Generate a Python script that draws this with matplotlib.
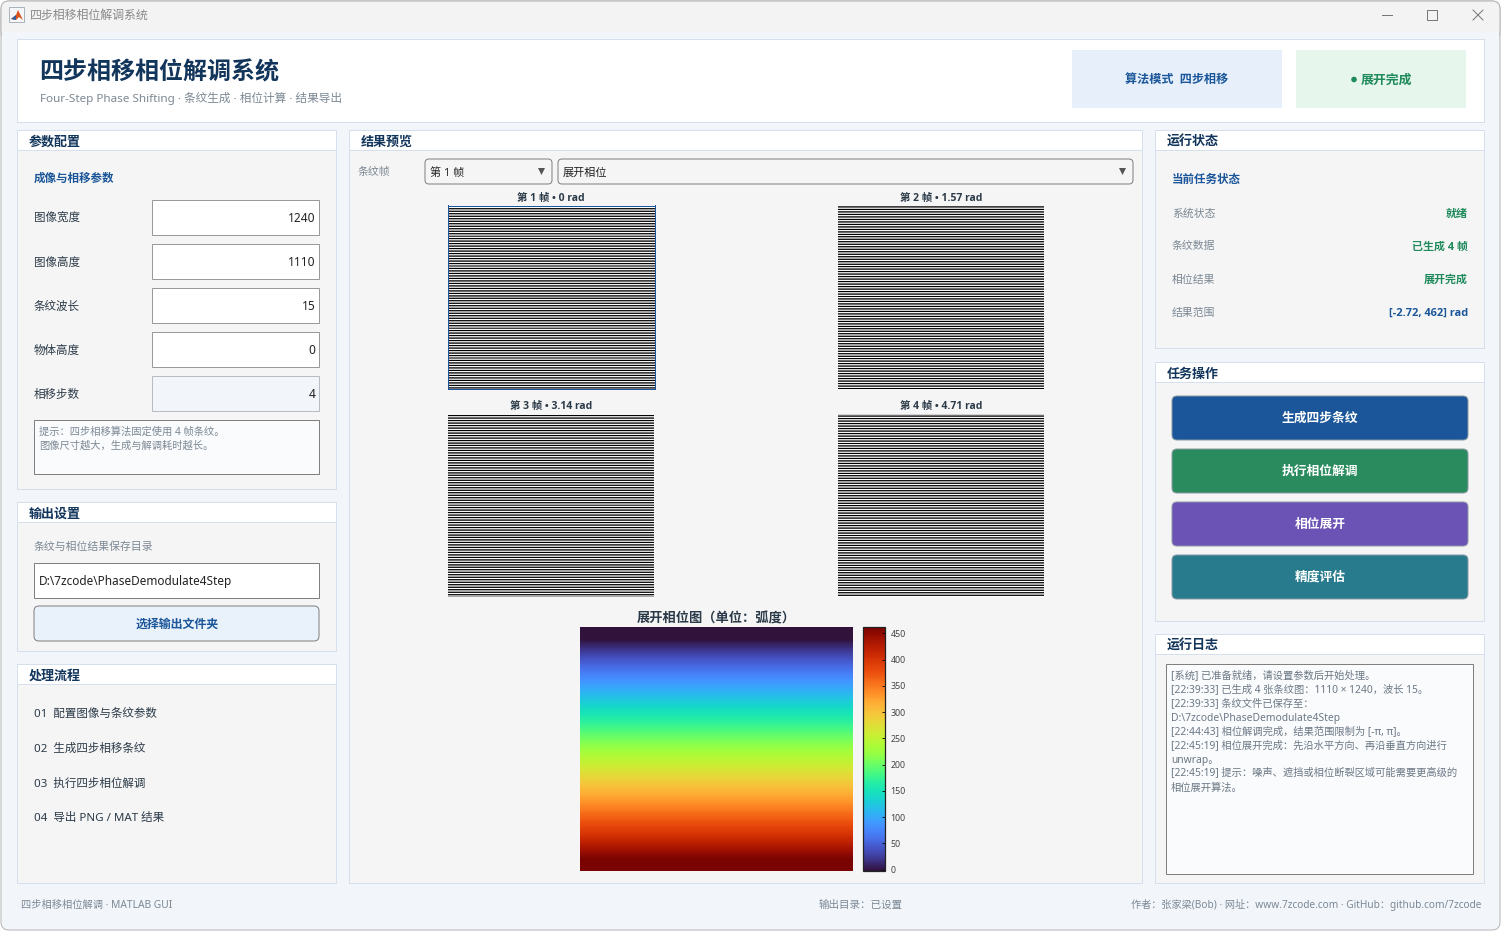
import numpy as np
import matplotlib
matplotlib.use('Agg')
import matplotlib.pyplot as plt
from matplotlib.patches import Rectangle, FancyBboxPatch, Polygon, Circle
from matplotlib.cm import ScalarMappable
from matplotlib.colors import Normalize

plt.rcParams['font.family'] = ['Noto Sans', 'Noto Sans CJK SC', 'DejaVu Sans']
BOLD_FAMILY = ['Open Sans', 'Noto Sans CJK SC', 'DejaVu Sans']

W, H = 1502, 932

# chart data
FRAME_TITLES = ['第 1 帧 • 0 rad', '第 2 帧 • 1.57 rad', '第 3 帧 • 3.14 rad', '第 4 帧 • 4.71 rad']
FRAME_SHIFTS = [0, 4, 8, 11]
FRINGE_ROWS = 1110
FRINGE_PERIOD = [1.0, 0.96, 0.83, 0.65, 0.43, 0.25, 0.09, 0.01, 0.01, 0.09, 0.25, 0.43, 0.65, 0.83, 0.96]
PHASE_ROWS = [-2.72, 50, 100, 150, 200, 250, 300, 350, 400, 462]
CBAR_TICKS = [0, 50, 100, 150, 200, 250, 300, 350, 400, 450]

PARAM_LABELS = ['图像宽度', '图像高度', '条纹波长', '物体高度', '相移步数']
PARAM_VALUES = ['1240', '1110', '15', '0', '4']
FLOW_STEPS = ['01  配置图像与条纹参数', '02  生成四步相移条纹', '03  执行四步相位解调', '04  导出 PNG / MAT 结果']
STATUS_LABELS = ['系统状态', '条纹数据', '相位结果', '结果范围']
STATUS_VALUES = ['就绪', '已生成 4 帧', '展开完成', '[-2.72, 462] rad']
BUTTON_LABELS = ['生成四步条纹', '执行相位解调', '相位展开', '精度评估']
BUTTON_COLORS = ['#1a5699', '#2a8c5e', '#6b52b5', '#277b8c']
LOG_LINES = [
    '[系统] 已准备就绪，请设置参数后开始处理。',
    '[22:39:33] 已生成 4 张条纹图：1110 × 1240，波长 15。',
    '[22:39:33] 条纹文件已保存至：',
    r'D:\7zcode\PhaseDemodulate4Step',
    '[22:44:43] 相位解调完成，结果范围限制为 [-π, π]。',
    '[22:45:19] 相位展开完成：先沿水平方向、再沿垂直方向进行',
    'unwrap。',
    '[22:45:19] 提示：噪声、遮挡或相位断裂区域可能需要更高级的',
    '相位展开算法。',
]

NAVY = '#12355b'
BLUE = '#1a5699'
GREEN = '#1f8a5b'
GREY = '#7c8894'
DARK = '#2b3a48'
BORDER = '#d5e0ec'
PANEL = '#f5f5f5'
PX = 0.72  # one pixel line

fig = plt.figure(figsize=(W / 100, H / 100), dpi=100, facecolor='white')
ui = fig.add_axes([0, 0, 1, 1])
ui.set_xlim(0, W)
ui.set_ylim(H, 0)
ui.axis('off')


def box(x0, y0, x1, y1, fc='white', ec='none', lw=PX):
    ui.add_patch(Rectangle((x0, y0), x1 - x0 - 1, y1 - y0 - 1, fc=fc, ec=ec, lw=lw))


def rbox(x0, y0, x1, y1, fc='white', ec='none', lw=PX, r=5):
    ui.add_patch(FancyBboxPatch((x0, y0), x1 - x0 - 1, y1 - y0 - 1, boxstyle=f'round,pad=0,rounding_size={r}',
                                fc=fc, ec=ec, lw=lw))


def txt(x, y, s, size=8.3, color=DARK, weight='normal', ha='left'):
    family = BOLD_FAMILY if weight == 'bold' else plt.rcParams['font.family']
    ui.text(x, y + 2, s, fontsize=size, color=color, fontweight=weight, ha=ha, va='center', family=family)


def panel(x0, y0, x1, y1, title):
    box(x0, y0, x1, y1, fc=PANEL, ec=BORDER)
    box(x0, y0, x1, y0 + 21, fc='white', ec=BORDER)
    txt(x0 + 12, y0 + 10, title, size=9.4, color=NAVY, weight='bold')


def sub_axes(x0, y0, x1, y1):
    return fig.add_axes([x0 / W, 1 - y1 / H, (x1 - x0) / W, (y1 - y0) / H])


# window
rbox(1, 1, W - 1, H - 1, fc='#f2f6fb', ec='#b5b5b5', r=8)
rbox(1, 1, W - 1, 40, fc='#f3f3f3', ec='#b5b5b5', r=8)
box(2, 31, W - 2, 50, fc='#f2f6fb')
box(9, 7, 25, 23, fc='#f4f6f8', ec='#aab2ba')
ui.add_patch(Polygon([[11, 19], [16, 15], [18, 10], [23, 20], [19, 17], [16, 20]], fc='#d9531e', ec='none'))
ui.add_patch(Polygon([[11, 19], [16, 15], [16, 20]], fc='#2f5f9e', ec='none'))
txt(30, 13, '四步相移相位解调系统', size=8.6, color='#8a8a8a')
ui.plot([1382, 1392], [15, 15], color='#777777', lw=PX)
box(1427, 10, 1438, 21, fc='none', ec='#777777')
ui.plot([1473, 1483], [10, 20], color='#777777', lw=PX)
ui.plot([1473, 1483], [20, 10], color='#777777', lw=PX)

# header
box(17, 39, 1485, 123, fc='white', ec=BORDER)
txt(39.5, 71, '四步相移相位解调系统', size=17.3, color=NAVY, weight='bold')
txt(40, 96, 'Four-Step Phase Shifting · 条纹生成 · 相位计算 · 结果导出', size=8.4, color=GREY)
box(1072, 50, 1283, 109, fc='#e7f0fa')
txt(1177, 77, '算法模式  四步相移', size=8.7, color=BLUE, weight='bold', ha='center')
box(1296, 50, 1467, 109, fc='#e7f6ec')
ui.add_patch(Circle((1354, 79.5), 2.8, fc=GREEN, ec='none'))
txt(1361, 78, '展开完成', size=9.3, color=GREEN, weight='bold')

# parameter panel
panel(17, 130, 337, 490, '参数配置')
txt(34, 176, '成像与相移参数', size=8.3, color=BLUE, weight='bold')
for i, (label, value) in enumerate(zip(PARAM_LABELS, PARAM_VALUES)):
    yc = 218 + 44 * i
    txt(34, yc - 1, label)
    locked = i == len(PARAM_LABELS) - 1
    box(152, yc - 18, 320, yc + 18, fc='#f2f5fa' if locked else 'white', ec='#b5bcc4' if locked else '#9a9a9a')
    txt(315.5, yc - 1, value, size=8.6, color='#222222', ha='right')
box(34, 420, 320, 475, fc='#f9fbfd', ec='#808080')
txt(39, 430, '提示：四步相移算法固定使用 4 帧条纹。', size=7.4, color=GREY)
txt(39, 444, '图像尺寸越大，生成与解调耗时越长。', size=7.4, color=GREY)

# output panel
panel(17, 502, 337, 652, '输出设置')
txt(34, 545, '条纹与相位结果保存目录', size=7.8, color=GREY)
box(34, 563, 320, 599, fc='white', ec='#808080')
txt(39, 580, r'D:\7zcode\PhaseDemodulate4Step', size=8.5, color='#222222')
rbox(34, 606, 320, 642, fc='#e9f1fb', ec='#808080', r=5)
txt(177, 622, '选择输出文件夹', size=8.6, color=BLUE, weight='bold', ha='center')

# flow panel
panel(17, 664, 337, 884, '处理流程')
for i, step in enumerate(FLOW_STEPS):
    txt(34, 712 + 35 * i, step)

# preview panel
panel(349, 130, 1143, 884, '结果预览')
txt(358, 170, '条纹帧', size=7.8, color=GREY)
rbox(425, 159, 553, 185, fc=PANEL, ec='#808080', r=4)
txt(430, 171, '第 1 帧', size=8.0, color='#222222')
ui.add_patch(Polygon([[538, 168], [545, 168], [541.5, 175]], fc='#555555', ec='none'))
rbox(558, 159, 1134, 185, fc=PANEL, ec='#808080', r=4)
txt(563, 171, '展开相位', size=8.0, color='#222222')
ui.add_patch(Polygon([[1119, 168], [1126, 168], [1122.5, 175]], fc='#555555', ec='none'))

FRAME_BOXES = [(447.5, 205.5, 654.5, 389), (838, 205.5, 1044, 389), (448, 413.5, 654, 597), (838, 413.5, 1044, 597)]
period_rows = np.array(FRINGE_PERIOD)
fringe = np.tile(period_rows, FRINGE_ROWS // len(period_rows))
for i, (x0, y0, x1, y1) in enumerate(FRAME_BOXES):
    ax = sub_axes(x0, y0, x1, y1)
    rows = np.roll(fringe, FRAME_SHIFTS[i]).reshape(-1, 1)
    ax.imshow(rows, cmap='gray', vmin=0, vmax=1, aspect='auto', interpolation='nearest')
    ax.set_xticks([])
    ax.set_yticks([])
    for sp in ax.spines.values():
        sp.set_visible(i == 0)
        sp.set_color(BLUE)
        sp.set_linewidth(PX)
    txt((x0 + x1) / 2, y0 - 9 if i else 197, FRAME_TITLES[i], size=7.5, color=DARK, weight='bold', ha='center')

# unwrapped phase
txt(716, 617, '展开相位图（单位：弧度）', size=9.5, color=DARK, weight='bold', ha='center')
phase_ax = sub_axes(580, 627, 852.5, 871)
phase_img = np.array(PHASE_ROWS).reshape(-1, 1)
phase_ax.imshow(np.hstack([phase_img, phase_img]), cmap='turbo', vmin=min(PHASE_ROWS), vmax=max(PHASE_ROWS),
                aspect='auto', interpolation='bilinear')
phase_ax.axis('off')

cax = sub_axes(863, 627, 885, 871)
sm = ScalarMappable(norm=Normalize(min(PHASE_ROWS), max(PHASE_ROWS)), cmap='turbo')
cb = fig.colorbar(sm, cax=cax)
cb.set_ticks(CBAR_TICKS)
cb.ax.tick_params(labelsize=6.4, labelcolor='#444444', length=2, width=0.6, direction='in', pad=4)
cb.outline.set_edgecolor('#222222')
cb.outline.set_linewidth(0.9)

# status panel
panel(1155, 130, 1485, 349, '运行状态')
txt(1172, 177, '当前任务状态', size=8.3, color=BLUE, weight='bold')
for i, (label, value) in enumerate(zip(STATUS_LABELS, STATUS_VALUES)):
    yc = 212 + 33 * i
    txt(1172, yc, label, size=7.8, color=GREY)
    txt(1468, yc, value, size=7.9, color=BLUE if i == 3 else GREEN, weight='bold', ha='right')

# task buttons
panel(1155, 362, 1485, 622, '任务操作')
for i, (label, color) in enumerate(zip(BUTTON_LABELS, BUTTON_COLORS)):
    y0 = 396 + 53 * i
    rbox(1172, y0, 1469, y0 + 45, fc=color, ec='#8a98a5', r=5)
    txt(1320, y0 + 20, label, size=9.2, color='white', weight='bold', ha='center')

# log panel
panel(1155, 634, 1485, 884, '运行日志')
box(1166, 664, 1474, 875, fc='#f9fbfd', ec='#808080')
for i, line in enumerate(LOG_LINES):
    txt(1171, 674 + 14 * i, line, size=7.4, color='#6c7884')

# footer
txt(21, 903, '四步相移相位解调 · MATLAB GUI', size=7.4, color=GREY)
txt(861, 903, '输出目录：已设置', size=7.6, color=GREY, ha='center')
txt(1481, 903, '作者：张家梁(Bob) · 网址：www.7zcode.com · GitHub：github.com/7zcode', size=7.3, color=GREY, ha='right')

fig.savefig('out.png', dpi=100, facecolor=fig.get_facecolor())
